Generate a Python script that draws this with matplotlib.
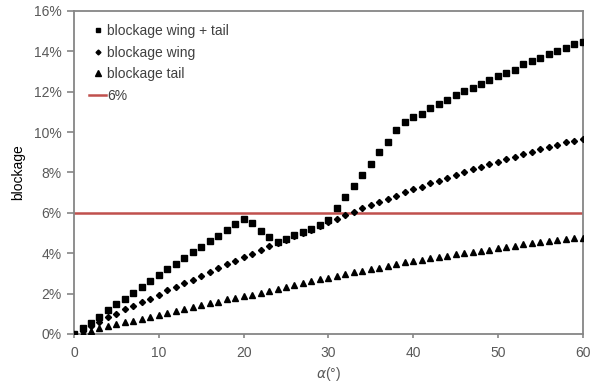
import numpy as np
import matplotlib
matplotlib.use("Agg")
import matplotlib.pyplot as plt
from matplotlib.ticker import FuncFormatter

plt.rcParams['font.family'] = ['Liberation Sans', 'DejaVu Sans']

alpha = list(range(0, 61))

wing_tail = [0.00, 0.30, 0.56, 0.83, 1.19, 1.47, 1.73, 2.03, 2.33, 2.62,
             2.90, 3.20, 3.48, 3.76, 4.06, 4.32, 4.60, 4.87, 5.16, 5.44,
             5.70, 5.48, 5.12, 4.80, 4.54, 4.69, 4.88, 5.05, 5.22, 5.42,
             5.64, 6.26, 6.80, 7.33, 7.87, 8.43, 9.00, 9.52, 10.08, 10.52,
             10.73, 10.92, 11.17, 11.39, 11.58, 11.82, 12.03, 12.19, 12.40, 12.60,
             12.80, 12.94, 13.10, 13.35, 13.51, 13.68, 13.86, 14.01, 14.17, 14.34,
             14.46]

wing = [0.00, 0.17, 0.38, 0.59, 0.83, 1.00, 1.22, 1.39, 1.57, 1.75,
        1.95, 2.16, 2.34, 2.51, 2.69, 2.87, 3.07, 3.26, 3.45, 3.63,
        3.81, 3.98, 4.16, 4.34, 4.49, 4.67, 4.84, 5.00, 5.17, 5.35,
        5.53, 5.72, 5.90, 6.05, 6.24, 6.39, 6.55, 6.67, 6.85, 7.01,
        7.16, 7.29, 7.46, 7.59, 7.74, 7.87, 8.00, 8.15, 8.28, 8.42,
        8.54, 8.65, 8.78, 8.90, 9.03, 9.15, 9.26, 9.38, 9.49, 9.57,
        9.65]

tail = [0.00, 0.07, 0.17, 0.28, 0.40, 0.48, 0.58, 0.66, 0.74, 0.86,
        0.94, 1.02, 1.12, 1.22, 1.32, 1.42, 1.52, 1.60, 1.72, 1.80,
        1.87, 1.95, 2.04, 2.13, 2.23, 2.31, 2.43, 2.54, 2.62, 2.71,
        2.79, 2.87, 2.97, 3.05, 3.13, 3.22, 3.28, 3.38, 3.47, 3.55,
        3.61, 3.66, 3.75, 3.80, 3.86, 3.95, 4.01, 4.06, 4.12, 4.17,
        4.24, 4.32, 4.37, 4.44, 4.49, 4.54, 4.59, 4.65, 4.69, 4.74,
        4.77]

threshold = 6.0
x_ticks = [0, 10, 20, 30, 40, 50, 60]
y_ticks = [0, 2, 4, 6, 8, 10, 12, 14, 16]

fig = plt.figure(figsize=(6.02, 3.85), dpi=100)
ax = fig.add_axes([0.123, 0.1325, 0.845, 0.839])

red = '#C0504D'
ax.axhline(threshold, color=red, lw=1.8, label='6%', zorder=2)
ax.plot(alpha, wing_tail, ls='none', marker='s', ms=4.4, color='black',
        label='blockage wing + tail', zorder=3)
ax.plot(alpha, wing, ls='none', marker='D', ms=3.1, color='black',
        label='blockage wing', zorder=3)
ax.plot(alpha, tail, ls='none', marker='^', ms=4.6, color='black',
        label='blockage tail', zorder=3)

ax.set_xlim(0, 60)
ax.set_ylim(0, 16)
ax.set_xticks(x_ticks)
ax.set_yticks(y_ticks)
ax.yaxis.set_major_formatter(FuncFormatter(lambda v, p: f'{int(round(v))}%'))

for s in ax.spines.values():
    s.set_color('#868686')
    s.set_linewidth(1.3)

ax.tick_params(axis='both', colors='#868686', labelcolor='#595959', labelsize=10,
               width=1.2)
ax.tick_params(axis='y', direction='out', length=5, pad=4)
ax.tick_params(axis='x', direction='out', length=3, pad=6)

ax.set_xlabel(r'$\alpha$(°)', fontsize=10, color='#595959', labelpad=3)
ax.set_ylabel('blockage', fontsize=10, color='#000000', labelpad=6)

handles, labels = ax.get_legend_handles_labels()
order = [1, 2, 3, 0]
leg = ax.legend([handles[i] for i in order], [labels[i] for i in order],
                loc='upper left', bbox_to_anchor=(0.01, 0.99), frameon=False,
                fontsize=10, handlelength=1.25, handletextpad=0.05,
                labelspacing=0.55, borderaxespad=0.3, numpoints=1,
                markerscale=0.8)
for t in leg.get_texts():
    t.set_color('#404040')

fig.savefig('out.png', dpi=100)
